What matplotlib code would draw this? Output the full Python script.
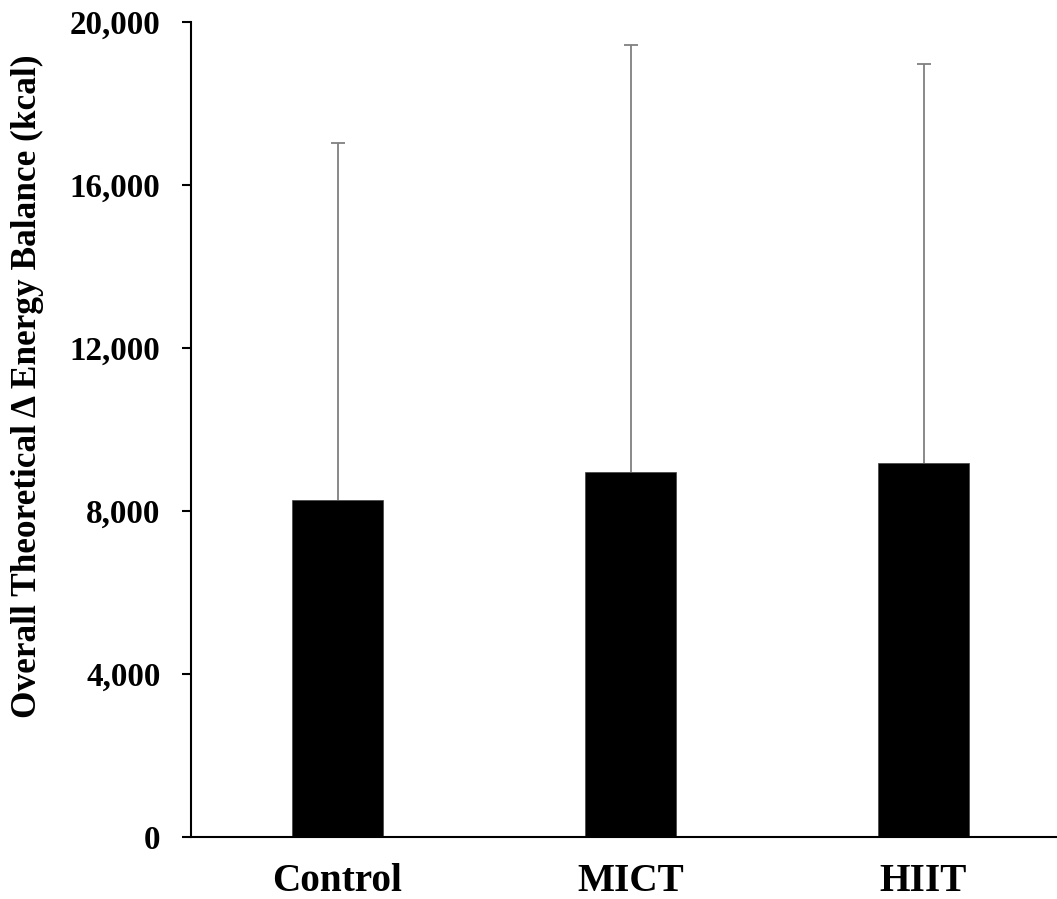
import matplotlib
matplotlib.use("Agg")
import matplotlib.pyplot as plt
from matplotlib.ticker import FuncFormatter

categories = ["Control", "MICT", "HIIT"]
means = [8266, 8960, 9167]
sd_upper = [8771, 10483, 9809]
y_ticks = [0, 4000, 8000, 12000, 16000, 20000]

plt.rcParams['font.family'] = ['Liberation Serif', 'DejaVu Serif']
plt.rcParams['font.weight'] = 'bold'

W, H = 1057, 899
fig = plt.figure(figsize=(W / 100, H / 100), dpi=100)
left_px, right_px, top_px, bottom_px = 191, 1070, 22, 836.7
ax = fig.add_axes([left_px / W, 1 - bottom_px / H,
                   (right_px - left_px) / W, (bottom_px - top_px) / H])

x = list(range(len(categories)))
bars = ax.bar(x, means, width=0.31, color='black', edgecolor='#404040', linewidth=0.5,
              yerr=[[0] * len(means), sd_upper],
              error_kw=dict(ecolor='#808080', elinewidth=1.3, capsize=5, capthick=1.3),
              zorder=2)
# hide the lower caps (only upper error bars in the reference)
caplines = bars.errorbar.lines[1]
if len(caplines) >= 1:
    caplines[0].set_visible(False)

ax.set_xlim(-0.5, len(categories) - 0.5)
ax.set_ylim(0, 20000)
ax.set_yticks(y_ticks)
ax.yaxis.set_major_formatter(FuncFormatter(lambda v, p: f"{int(v):,}"))
ax.set_xticks(x)
ax.set_xticklabels(categories, fontsize=28.3, fontweight='bold')
ax.tick_params(axis='y', direction='out', length=6.5, width=1.5, pad=15.5,
               labelsize=23.8)
ax.tick_params(axis='x', length=0, pad=19)
for lbl in ax.get_yticklabels():
    lbl.set_fontweight('bold')

for s in ['top', 'right']:
    ax.spines[s].set_visible(False)
for s in ['left', 'bottom']:
    ax.spines[s].set_linewidth(1.5)
    ax.spines[s].set_color('black')

ax.set_ylabel("Overall Theoretical Δ Energy Balance (kcal)", fontsize=25.4,
              fontweight='bold')
ax.yaxis.set_label_coords(44 / W, 1 - 386 / H, transform=fig.transFigure)

fig.savefig("out.png", dpi=100, facecolor='white')
